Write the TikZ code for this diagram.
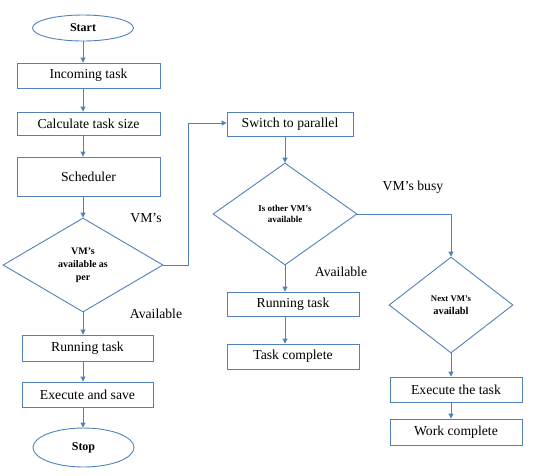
\documentclass[tikz,border=0pt]{standalone}
\usepackage{fontspec}
\setmainfont{Liberation Serif}
\usetikzlibrary{shapes.geometric,arrows.meta}
\definecolor{lineblue}{RGB}{79,129,189}
\tikzset{
  box/.style={draw=lineblue, line width=0.9pt, rectangle, inner sep=0pt, font=\fontsize{13.7}{15}\selectfont},
  term/.style={draw=lineblue, line width=0.9pt, ellipse, inner sep=0pt, minimum width=101pt, font=\fontsize{12}{14}\selectfont\bfseries},
  dec/.style={draw=lineblue, line width=0.9pt, diamond, inner sep=0pt, align=center},
  lbl/.style={font=\fontsize{13.7}{15}\selectfont, inner sep=0pt},
  flow/.style={draw=lineblue, line width=0.9pt, -{Triangle[length=5pt,width=5pt]}},
}
\begin{document}
\begin{tikzpicture}[x=1pt,y=-1pt]
\useasboundingbox (0,0) rectangle (535,475);
% left column
\node[term, minimum height=26pt] (start) at (83,28) {Start};
\node[box, minimum width=143pt, minimum height=25pt] (inc) at (88.5,75.5) {Incoming task};
\node[box, minimum width=143pt, minimum height=23pt] (calc) at (88.5,123.5) {Calculate task size};
\node[box, minimum width=143pt, minimum height=39pt] (sched) at (88.5,176.5) {Scheduler};
\node[dec, minimum width=160pt, minimum height=94pt, font=\fontsize{10}{13}\selectfont\bfseries] (d1) at (83,265) {VM’s\\available as\\per};
\node[box, minimum width=131pt, minimum height=26pt] (run1) at (87.5,348) {Running task};
\node[box, minimum width=131pt, minimum height=25pt] (exec1) at (87.5,394.5) {Execute and save};
\node[term, minimum height=39pt] (stop) at (83.5,447.5) {Stop};
% middle column
\node[box, minimum width=126pt, minimum height=24pt] (switch) at (290,124) {Switch to parallel};
\node[dec, minimum width=144pt, minimum height=102pt, font=\fontsize{9}{11.5}\selectfont\bfseries] (d2) at (285,214) {Is other VM’s\\available};
\node[box, minimum width=132pt, minimum height=24pt] (run2) at (293,304) {Running task};
\node[box, minimum width=132pt, minimum height=25pt] (done2) at (293,356.5) {Task complete};
% right column
\node[dec, minimum width=124pt, minimum height=96pt, align=center] (d3) at (451,305) {\fontsize{8.7}{10}\selectfont\bfseries Next VM’s\\[1pt]\fontsize{10.4}{12}\selectfont\bfseries availabl};
\node[box, minimum width=132pt, minimum height=25pt] (exec3) at (456,389.5) {Execute the task};
\node[box, minimum width=132pt, minimum height=26pt] (work) at (456,432) {Work complete};
% labels
\node[lbl] (l1) at (146,218) {VM’s};
\node[lbl] (l2) at (156,314) {Available};
\node[lbl] (l3) at (341,272) {Available};
\node[lbl] (l4) at (413,187) {VM’s busy};
% connectors
\draw[flow] (start.south) -- (inc.north -| start.south);
\draw[flow] (inc.south -| start.south) -- (calc.north -| start.south);
\draw[flow] (calc.south -| start.south) -- (sched.north -| start.south);
\draw[flow] (sched.south -| d1.north) -- (d1.north);
\draw[flow] (d1.south) -- (d1.south |- run1.north);
\draw[flow] (run1.south -| d1.south) -- (exec1.north -| d1.south);
\draw[flow] (exec1.south -| d1.south) -- (stop.north -| d1.south);
\coordinate (c1) at (188,123);
\draw[flow] (d1.east) -| (c1) -- (c1 -| switch.west);
\draw[flow] (switch.south -| d2.north) -- (d2.north);
\draw[flow] (d2.south) -- (d2.south |- run2.north);
\draw[flow] (run2.south -| d2.south) -- (done2.north -| d2.south);
\draw[flow] (d2.east) -| (d3.north);
\draw[flow] (d3.south) -- (d3.south |- exec3.north);
\draw[flow] (exec3.south -| d3.south) -- (work.north -| d3.south);
\end{tikzpicture}
\end{document}
